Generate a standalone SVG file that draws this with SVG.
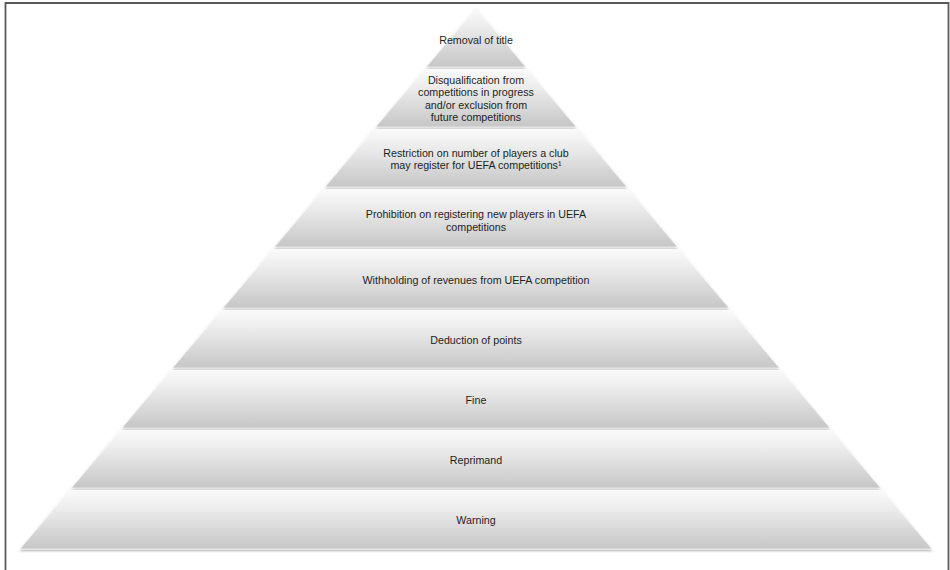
<svg xmlns="http://www.w3.org/2000/svg" width="950" height="570" viewBox="0 0 950 570">
<defs>
<linearGradient id="g" x1="0" y1="0" x2="0" y2="1">
<stop offset="0" stop-color="#fafafa"/>
<stop offset="0.3" stop-color="#ededed"/>
<stop offset="1" stop-color="#c6c6c6"/>
</linearGradient>
<filter id="sh" x="-5%" y="-10%" width="110%" height="130%">
<feDropShadow dx="0" dy="1.5" stdDeviation="1.2" flood-color="#000" flood-opacity="0.35"/>
</filter>
<style>
.lay{fill:url(#g);stroke:#ffffff;stroke-opacity:0.7;stroke-width:0.8;filter:url(#sh)}
.t{font-family:"Liberation Sans",Arial,sans-serif;font-size:10.7px;fill:#1e1e1e;text-anchor:middle}
</style>
</defs>
<rect width="950" height="570" fill="#ffffff"/>
<path d="M5.5,570 V3 H948.5 V570" fill="none" stroke="#5a5a5a" stroke-width="1.8"/>
<g id="layer1"><polygon class="lay" points="476,8 525.7,67 426.3,67"/><text class="t" x="476" y="44">Removal of title</text></g>
<g id="layer2"><polygon class="lay" points="424.6,69 527.4,69 576.3,127 375.7,127"/><text class="t" x="476" y="84">Disqualification from<tspan x="476" dy="12.3">competitions in progress</tspan><tspan x="476" dy="12.3">and/or exclusion from</tspan><tspan x="476" dy="12.3">future competitions</tspan></text></g>
<g id="layer3"><polygon class="lay" points="374,129 578,129 626.9,187 325.1,187"/><text class="t" x="476" y="157">Restriction on number of players a club<tspan x="476" dy="12">may register for UEFA competitions¹</tspan></text></g>
<g id="layer4"><polygon class="lay" points="323.4,189 628.6,189 677.5,247 274.5,247"/><text class="t" x="476" y="218">Prohibition on registering new players in UEFA<tspan x="476" dy="12.5">competitions</tspan></text></g>
<g id="layer5"><polygon class="lay" points="272.9,249 679.1,249 728.9,308 223.1,308"/><text class="t" x="476" y="283.5">Withholding of revenues from UEFA competition</text></g>
<g id="layer6"><polygon class="lay" points="221.4,310 730.6,310 779.4,368 172.6,368"/><text class="t" x="476" y="343.5">Deduction of points</text></g>
<g id="layer7"><polygon class="lay" points="170.9,370 781.1,370 830,428 122,428"/><text class="t" x="476" y="403.5">Fine</text></g>
<g id="layer8"><polygon class="lay" points="120.3,430 831.7,430 880.6,488 71.4,488"/><text class="t" x="476" y="463.5">Reprimand</text></g>
<g id="layer9"><polygon class="lay" points="69.7,490 882.3,490 932,549 20,549"/><text class="t" x="476" y="523.5">Warning</text></g>
<g id="connectors"/>
</svg>
